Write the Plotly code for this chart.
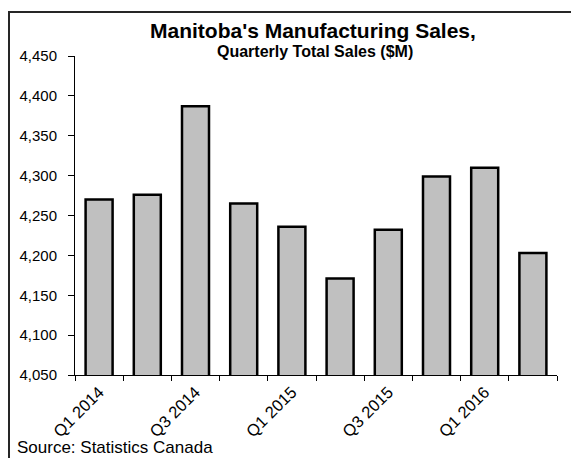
import plotly.graph_objects as go

quarters = ["Q1 2014", "Q2 2014", "Q3 2014", "Q4 2014", "Q1 2015",
            "Q2 2015", "Q3 2015", "Q4 2015", "Q1 2016", "Q2 2016"]
sales = [4270, 4276, 4387, 4265, 4236, 4171, 4232, 4299, 4310, 4203]
y_ticks = list(range(4050, 4451, 50))

W, H = 571, 458
ML, MR, MT, MB = 75, 14, 56, 83
PW, PH = W - ML - MR, H - MT - MB

def xp(px):
    return (px - ML) / PW

def yp(py):
    return (H - MB - py) / PH

pos = list(range(len(quarters)))
FONT = "Arial, Liberation Sans, sans-serif"

fig = go.Figure()
fig.add_trace(go.Bar(
    x=pos, y=sales,
    width=0.56,
    marker=dict(color="#C0C0C0", line=dict(color="black", width=2.5)),
    hovertext=quarters,
))

fig.update_layout(
    width=W, height=H,
    margin=dict(l=ML, r=MR, t=MT, b=MB, autoexpand=False),
    paper_bgcolor="white", plot_bgcolor="white",
    showlegend=False,
    font=dict(family=FONT, color="black"),
)

fig.update_xaxes(
    range=[-0.5, len(quarters) - 0.5],
    tickvals=pos[::2], ticktext=quarters[::2],
    tickangle=-45, ticks="", showgrid=False,
    showline=True, linecolor="black", linewidth=1,
    tickfont=dict(size=16.5, family=FONT, color="black"),
    ticklabelstandoff=0,
    minor=dict(tickvals=[p - 0.5 for p in pos] + [pos[-1] + 0.5],
               ticks="outside", ticklen=5, tickcolor="black", tickwidth=1,
               showgrid=False),
    zeroline=False, automargin=False,
)

fig.update_yaxes(
    range=[y_ticks[0], y_ticks[-1]],
    tickvals=y_ticks, tickformat=",",
    ticks="outside", ticklen=6, tickcolor="black", tickwidth=1,
    showline=True, linecolor="black", linewidth=1,
    showgrid=False, zeroline=False, automargin=False,
    ticklabelstandoff=8,
    tickfont=dict(size=15, family=FONT, color="black"),
)

fig.add_annotation(text="<b>Manitoba's Manufacturing Sales,</b>",
                   xref="paper", yref="paper", x=xp(313), y=yp(31),
                   xanchor="center", yanchor="middle", showarrow=False,
                   font=dict(size=21, family=FONT, color="black"))
fig.add_annotation(text="<b>Quarterly Total Sales ($M)</b>",
                   xref="paper", yref="paper", x=xp(315), y=yp(51),
                   xanchor="center", yanchor="middle", showarrow=False,
                   font=dict(size=16, family=FONT, color="black"))
fig.add_annotation(text="Source: Statistics Canada",
                   xref="paper", yref="paper", x=xp(15), y=yp(447),
                   xanchor="left", yanchor="middle", showarrow=False,
                   font=dict(size=17, family=FONT, color="black"))

fig.add_shape(type="rect", xref="paper", yref="paper",
              x0=xp(9), y0=yp(12), x1=xp(620), y1=yp(520),
              line=dict(color="#262626", width=2), fillcolor="rgba(0,0,0,0)",
              layer="below")

fig.write_html("out.html",
               config={"displayModeBar": False},
               post_script="document.body.style.margin='0';document.body.style.overflow='hidden';")
